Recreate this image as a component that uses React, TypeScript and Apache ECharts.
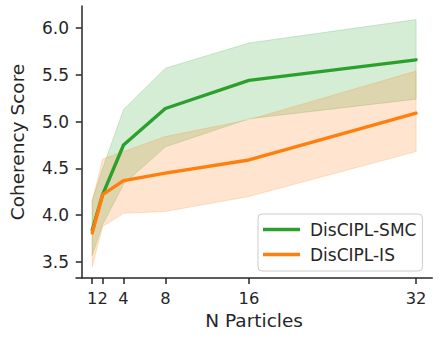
import React, { useEffect, useRef } from "react";
import * as echarts from "echarts";

const particles = [1, 2, 4, 8, 16, 32];
const smcMean = [3.84, 4.22, 4.75, 5.14, 5.44, 5.66];
const smcLow = [3.57, 3.9, 4.33, 4.73, 5.03, 5.24];
const smcHigh = [4.16, 4.5, 5.13, 5.57, 5.84, 6.09];
const isMean = [3.81, 4.22, 4.37, 4.45, 4.59, 5.09];
const isLow = [3.45, 3.88, 4.02, 4.04, 4.2, 4.68];
const isHigh = [4.15, 4.6, 4.68, 4.84, 5.02, 5.54];
const yTicks = [3.5, 4.0, 4.5, 5.0, 5.5, 6.0];
const seriesNames = ["DisCIPL-SMC", "DisCIPL-IS"];

const GREEN = "#2ca02c";
const ORANGE = "#ff7f0e";
const INK = "#262626";
const FONT = "DejaVu Sans";

function bandSeries(name: string, low: number[], high: number[], fill: string) {
  return {
    type: "custom",
    name,
    silent: true,
    z: 1,
    data: particles.map((x, i) => [x, low[i], high[i]]),
    encode: { x: 0, y: [1, 2] },
    renderItem: (params: any, api: any) => {
      if (params.dataIndex !== 0) return null;
      const up = particles.map((x, i) => api.coord([x, high[i]]));
      const dn = particles.map((x, i) => api.coord([x, low[i]])).reverse();
      return {
        type: "polygon",
        shape: { points: up.concat(dn) },
        style: { fill, stroke: fill, lineWidth: 1 },
      };
    },
  };
}

function lineSeries(name: string, values: number[], color: string) {
  return {
    type: "line",
    name,
    z: 3,
    data: particles.map((x, i) => [x, values[i]]),
    showSymbol: false,
    symbol: "none",
    color,
    lineStyle: { color, width: 3.4, cap: "round", join: "round" },
  };
}

export default function App() {
  const ref = useRef<HTMLDivElement>(null);
  useEffect(() => {
    if (!ref.current) return;
    const chart = echarts.init(ref.current, undefined, { renderer: "svg" });
    chart.setOption({
      animation: false,
      backgroundColor: "#ffffff",
      grid: { left: 69, top: 6, width: 363.3, height: 272, containLabel: false },
      xAxis: {
        type: "value",
        min: -0.55,
        max: 33.55,
        name: "N Particles",
        nameLocation: "middle",
        nameGap: 30,
        nameTextStyle: { fontFamily: FONT, fontSize: 18.5, color: INK },
        axisLine: { show: true, lineStyle: { color: INK, width: 1.5 } },
        axisTick: { show: true, length: 6, customValues: particles, lineStyle: { color: INK, width: 1.5 } },
        axisLabel: {
          customValues: particles,
          hideOverlap: false,
          margin: 12,
          fontFamily: FONT,
          fontSize: 16.3,
          color: INK,
        },
        splitLine: { show: false },
      },
      yAxis: {
        type: "value",
        min: 3.329,
        max: 6.235,
        name: "Coherency Score",
        nameLocation: "middle",
        nameGap: 49,
        nameTextStyle: { fontFamily: FONT, fontSize: 18.5, color: INK },
        axisLine: { show: true, lineStyle: { color: INK, width: 1.5 } },
        axisTick: { show: true, length: 6, customValues: yTicks, lineStyle: { color: INK, width: 1.5 } },
        axisLabel: {
          customValues: yTicks,
          margin: 7,
          fontFamily: FONT,
          fontSize: 17,
          color: INK,
          formatter: (v: number) => v.toFixed(1),
        },
        splitLine: { show: false },
      },
      legend: {
        orient: "vertical",
        left: 258,
        top: 214,
        data: seriesNames.map((n) => ({ name: n, icon: "rect" })),
        itemWidth: 37,
        itemHeight: 3.5,
        itemGap: 8,
        padding: [7, 6, 8, 5],
        backgroundColor: "rgba(255,255,255,0.8)",
        borderColor: "#cccccc",
        borderWidth: 1,
        borderRadius: 4,
        textStyle: { fontFamily: FONT, fontSize: 17, color: INK, lineHeight: 16, padding: [0, 0, 0, 5] },
      },
      series: [
        bandSeries("SMC band", smcLow, smcHigh, "rgba(44,160,44,0.2)"),
        bandSeries("IS band", isLow, isHigh, "rgba(255,127,14,0.2)"),
        lineSeries(seriesNames[0], smcMean, GREEN),
        lineSeries(seriesNames[1], isMean, ORANGE),
      ],
    });
    return () => chart.dispose();
  }, []);
  return (
    <div
      ref={ref}
      style={{ position: "fixed", left: 0, top: 0, width: 439, height: 337 }}
    />
  );
}
